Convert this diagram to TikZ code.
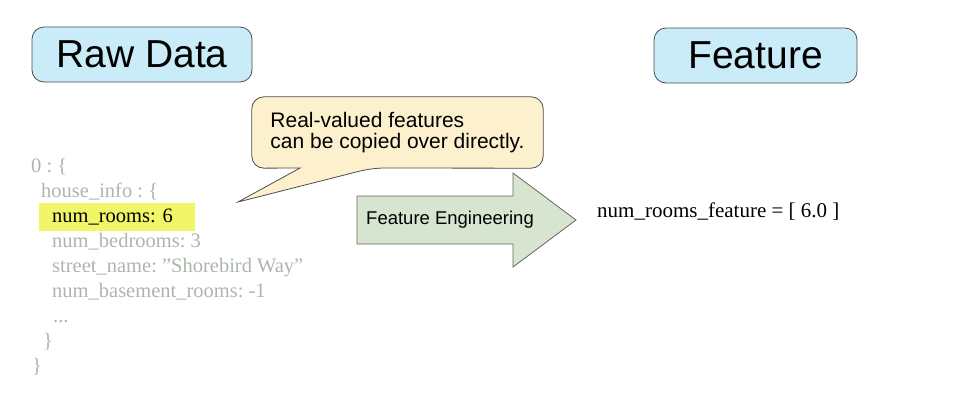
\documentclass[tikz,border=0pt]{standalone}
\usepackage{fontspec}
\setmainfont{Liberation Serif}[Ligatures = ResetAll]
\setsansfont{Liberation Sans}
\usetikzlibrary{backgrounds}
\definecolor{titleblue}{RGB}{201,236,248}
\definecolor{notecream}{RGB}{253,240,205}
\definecolor{arrowgreen}{RGB}{214,228,208}
\definecolor{hilite}{RGB}{240,246,104}
\definecolor{jsongray}{RGB}{172,182,170}
\frenchspacing

\begin{document}
\begin{tikzpicture}[x = 1pt, y = -1pt,
    title/.style = {draw = black!70, line width = 0.8pt, fill = titleblue, rounded corners = 12pt,
      font = \sffamily\fontsize{39}{39}\selectfont, minimum height = 55pt},
    json/.style = {anchor = base west, inner sep = 0pt, text = jsongray,
      font = \fontsize{20.5}{20.5}\selectfont}]
    \useasboundingbox (0,0) rectangle (960,400);

    % titles
    \node[title, minimum width = 220pt] (raw) at (142,54.5) {Raw Data};
    \node[title, minimum width = 203pt] (feat) at (755.5,55.5) {Feature};

    % raw data
    \node[json] (l0) at (31,172) {0 : \{};
    \node[json] (l1) at (41,197) {house\_info : \{};
    \node[json, fill = hilite, text = black, inner xsep = 13pt, text width = 130pt,
      text height = 19pt, text depth = 9pt] (rooms) at (39,222) {num\_rooms: 6};
    \node[json] (l3) at (52,247) {num\_bedrooms: 3};
    \node[json] (l4) at (52,272) {street\_name: "Shorebird Way"};
    \node[json] (l5) at (52,297) {num\_basement\_rooms: -1};
    \node[json] (l6) at (53,322) {...};
    \node[json] (l7) at (43,347) {\}};
    \node[json] (l8) at (32,372) {\}};

    % note
    \node[minimum width = 291pt, minimum height = 71pt, align = left,
      font = \sffamily\fontsize{21}{21}\selectfont] (note) at (397.5,132.5)
      {Real-valued features\\can be copied over directly.};
    \coordinate (noteTip) at (238,202);
    \begin{scope}[on background layer]
      \draw[draw = black!70, line width = 0.8pt, fill = notecream]
        (note.north) [rounded corners = 12pt] -- (note.north east) -- (note.south east)
        -- (372,168) [sharp corners] -- (noteTip) -- (300,168)
        [rounded corners = 12pt] -- (note.south west) -- (note.north west) -- cycle;
    \end{scope}

    % arrow
    \draw[draw = black!60, line width = 0.8pt, fill = arrowgreen]
      (357,196) -- (513,196) -- (513,173) -- (576,220) -- (513,267) -- (513,244) -- (357,244) -- cycle;
    \node[anchor = west, inner sep = 0pt, font = \sffamily\fontsize{18.5}{18.5}\selectfont]
      (eng) at (366,220) {Feature Engineering};

    % feature
    \node[anchor = base west, inner sep = 0pt, font = \fontsize{21}{21}\selectfont]
      (vec) at (597,217) {num\_rooms\_feature = [ 6.0 ]};
\end{tikzpicture}
\end{document}
